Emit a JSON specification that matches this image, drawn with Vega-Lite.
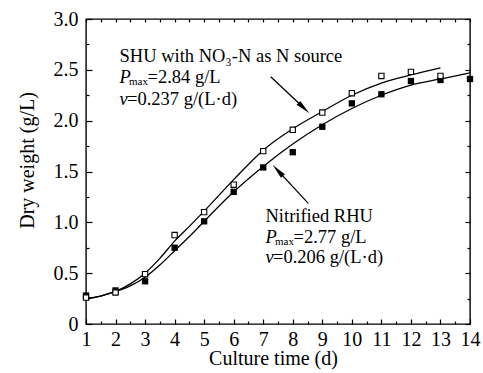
{
  "$schema": "https://vega.github.io/schema/vega-lite/v6.json",
  "width": 384,
  "height": 305,
  "autosize": "none",
  "padding": {"left": 86, "top": 19, "right": 13, "bottom": 49},
  "background": "white",
  "config": {
    "view": {"stroke": "black", "strokeWidth": 1.4},
    "axis": {
      "domain": false,
      "grid": false,
      "labelFont": "Liberation Serif",
      "titleFont": "Liberation Serif",
      "labelFontSize": 20,
      "titleFontSize": 20,
      "titleFontWeight": "normal",
      "labelColor": "black",
      "titleColor": "black",
      "tickColor": "black",
      "tickWidth": 1.2,
      "labelFlush": false,
      "labelOverlap": false
    }
  },
  "datasets": {
    "curves": [
      {"series": "SHU", "t": 1, "dw": 0.25},
      {"series": "SHU", "t": 1.5, "dw": 0.275},
      {"series": "SHU", "t": 2, "dw": 0.32},
      {"series": "SHU", "t": 2.5, "dw": 0.395},
      {"series": "SHU", "t": 3, "dw": 0.5},
      {"series": "SHU", "t": 3.5, "dw": 0.645},
      {"series": "SHU", "t": 4, "dw": 0.815},
      {"series": "SHU", "t": 4.5, "dw": 0.96},
      {"series": "SHU", "t": 5, "dw": 1.11},
      {"series": "SHU", "t": 6, "dw": 1.42},
      {"series": "SHU", "t": 7, "dw": 1.71},
      {"series": "SHU", "t": 8, "dw": 1.92},
      {"series": "SHU", "t": 9, "dw": 2.09},
      {"series": "SHU", "t": 10, "dw": 2.25},
      {"series": "SHU", "t": 11, "dw": 2.37},
      {"series": "SHU", "t": 12, "dw": 2.45},
      {"series": "SHU", "t": 13, "dw": 2.52},
      {"series": "RHU", "t": 1, "dw": 0.25},
      {"series": "RHU", "t": 1.5, "dw": 0.275},
      {"series": "RHU", "t": 2, "dw": 0.32},
      {"series": "RHU", "t": 2.5, "dw": 0.375},
      {"series": "RHU", "t": 3, "dw": 0.46},
      {"series": "RHU", "t": 3.5, "dw": 0.58},
      {"series": "RHU", "t": 4, "dw": 0.72},
      {"series": "RHU", "t": 4.5, "dw": 0.86},
      {"series": "RHU", "t": 5, "dw": 1.01},
      {"series": "RHU", "t": 6, "dw": 1.3},
      {"series": "RHU", "t": 7, "dw": 1.55},
      {"series": "RHU", "t": 8, "dw": 1.77},
      {"series": "RHU", "t": 9, "dw": 1.96},
      {"series": "RHU", "t": 10, "dw": 2.12},
      {"series": "RHU", "t": 11, "dw": 2.25},
      {"series": "RHU", "t": 12, "dw": 2.35},
      {"series": "RHU", "t": 13, "dw": 2.41},
      {"series": "RHU", "t": 14, "dw": 2.47}
    ],
    "points": [
      {"series": "SHU", "t": 1, "dw": 0.26},
      {"series": "SHU", "t": 2, "dw": 0.31},
      {"series": "SHU", "t": 3, "dw": 0.49},
      {"series": "SHU", "t": 4, "dw": 0.875},
      {"series": "SHU", "t": 5, "dw": 1.1},
      {"series": "SHU", "t": 6, "dw": 1.37},
      {"series": "SHU", "t": 7, "dw": 1.7},
      {"series": "SHU", "t": 8, "dw": 1.91},
      {"series": "SHU", "t": 9, "dw": 2.08},
      {"series": "SHU", "t": 10, "dw": 2.27},
      {"series": "SHU", "t": 11, "dw": 2.44},
      {"series": "SHU", "t": 12, "dw": 2.48},
      {"series": "SHU", "t": 13, "dw": 2.44},
      {"series": "RHU", "t": 1, "dw": 0.28},
      {"series": "RHU", "t": 2, "dw": 0.33},
      {"series": "RHU", "t": 3, "dw": 0.42},
      {"series": "RHU", "t": 4, "dw": 0.75},
      {"series": "RHU", "t": 5, "dw": 1.01},
      {"series": "RHU", "t": 6, "dw": 1.3},
      {"series": "RHU", "t": 7, "dw": 1.54},
      {"series": "RHU", "t": 8, "dw": 1.69},
      {"series": "RHU", "t": 9, "dw": 1.94},
      {"series": "RHU", "t": 10, "dw": 2.17},
      {"series": "RHU", "t": 11, "dw": 2.26},
      {"series": "RHU", "t": 12, "dw": 2.39},
      {"series": "RHU", "t": 13, "dw": 2.4},
      {"series": "RHU", "t": 14, "dw": 2.41}
    ],
    "arrows": [
      {"arrow": "upper", "x": 7.253, "y": 2.432, "x2": 8.377, "y2": 2.124},
      {"arrow": "lower", "x": 8.526, "y": 1.187, "x2": 7.493, "y2": 1.51}
    ],
    "labels": [
      {"x": 2.134, "y": 2.58, "text": "SHU with NO₃-N as N source", "part": "plain"},
      {"x": 2.134, "y": 2.368, "text": "P", "part": "italic"},
      {"x": 2.134, "y": 2.368, "text": "max", "part": "sub"},
      {"x": 2.134, "y": 2.368, "text": "=2.84 g/L", "part": "afterSub"},
      {"x": 2.134, "y": 2.154, "text": "v", "part": "italic"},
      {"x": 2.134, "y": 2.154, "text": "=0.237 g/(L·d)", "part": "afterV"},
      {"x": 7.077, "y": 1.006, "text": "Nitrified RHU", "part": "plain"},
      {"x": 7.077, "y": 0.794, "text": "P", "part": "italic"},
      {"x": 7.077, "y": 0.794, "text": "max", "part": "sub"},
      {"x": 7.077, "y": 0.794, "text": "=2.77 g/L", "part": "afterSub"},
      {"x": 7.077, "y": 0.597, "text": "v", "part": "italic"},
      {"x": 7.077, "y": 0.597, "text": "=0.206 g/(L·d)", "part": "afterV"}
    ]
  },
  "layer": [
    {
      "data": {"name": "curves"},
      "mark": {"type": "line", "color": "black", "strokeWidth": 1.3, "interpolate": "monotone"},
      "encoding": {
        "x": {
          "field": "t", "type": "quantitative",
          "scale": {"domain": [1, 14], "nice": false, "zero": false},
          "axis": {
            "orient": "bottom",
            "values": [1, 1.5, 2, 2.5, 3, 3.5, 4, 4.5, 5, 5.5, 6, 6.5, 7, 7.5, 8, 8.5, 9, 9.5, 10, 10.5, 11, 11.5, 12, 12.5, 13, 13.5, 14],
            "labelExpr": "datum.value % 1 === 0 ? format(datum.value, 'd') : ''",
            "tickSize": {"condition": {"test": "datum.value % 1 === 0", "value": -5}, "value": -3},
            "labelPadding": 10,
            "title": "Culture time (d)",
            "titleX": 187,
            "titleY": 40,
            "titleBaseline": "alphabetic",
            "titleAlign": "center"
          }
        },
        "y": {
          "field": "dw", "type": "quantitative",
          "scale": {"domain": [0, 3], "nice": false},
          "axis": {
            "orient": "left",
            "values": [0, 0.25, 0.5, 0.75, 1, 1.25, 1.5, 1.75, 2, 2.25, 2.5, 2.75, 3],
            "labelExpr": "datum.value === 0 ? '0' : ((datum.value * 2) % 1 === 0 ? format(datum.value, '.1f') : '')",
            "tickSize": {"condition": {"test": "(datum.value * 2) % 1 === 0", "value": -6}, "value": -3},
            "labelPadding": 14,
            "title": "Dry weight (g/L)",
            "titleX": -53,
            "titleY": 141,
            "titleAngle": -90,
            "titleBaseline": "alphabetic",
            "titleAlign": "center"
          }
        },
        "detail": {"field": "series"}
      }
    },
    {
      "data": {"name": "points"},
      "transform": [{"filter": "datum.series === 'RHU'"}],
      "mark": {"type": "square", "color": "black", "filled": true, "size": 40, "opacity": 1},
      "encoding": {
        "x": {
          "field": "t", "type": "quantitative",
          "axis": {
            "orient": "top",
            "values": [1, 1.5, 2, 2.5, 3, 3.5, 4, 4.5, 5, 5.5, 6, 6.5, 7, 7.5, 8, 8.5, 9, 9.5, 10, 10.5, 11, 11.5, 12, 12.5, 13, 13.5, 14],
            "labels": false,
            "title": null,
            "tickSize": -3
          }
        },
        "y": {
          "field": "dw", "type": "quantitative",
          "axis": {
            "orient": "right",
            "values": [0, 0.25, 0.5, 0.75, 1, 1.25, 1.5, 1.75, 2, 2.25, 2.5, 2.75, 3],
            "labels": false,
            "title": null,
            "tickSize": {"condition": {"test": "(datum.value * 2) % 1 === 0", "value": -5}, "value": -3}
          }
        }
      }
    },
    {
      "data": {"name": "points"},
      "transform": [{"filter": "datum.series === 'SHU'"}],
      "mark": {"type": "square", "fill": "white", "stroke": "black", "strokeWidth": 1.1, "size": 28, "opacity": 1, "fillOpacity": 1},
      "encoding": {
        "x": {"field": "t", "type": "quantitative", "axis": null},
        "y": {"field": "dw", "type": "quantitative", "axis": null}
      }
    },
    {
      "data": {"name": "arrows"},
      "mark": {"type": "rule", "color": "black", "strokeWidth": 1.2},
      "encoding": {
        "x": {"field": "x", "type": "quantitative", "axis": null},
        "y": {"field": "y", "type": "quantitative", "axis": null},
        "x2": {"field": "x2"},
        "y2": {"field": "y2"}
      }
    },
    {
      "data": {"name": "arrows"},
      "transform": [{"filter": "datum.arrow === 'upper'"}],
      "mark": {"type": "point", "shape": "M0,-1L0.36,1L-0.36,1Z", "filled": true, "color": "black", "opacity": 1, "size": 225, "angle": 133.5},
      "encoding": {
        "x": {"field": "x2", "type": "quantitative", "axis": null},
        "y": {"field": "y2", "type": "quantitative", "axis": null}
      }
    },
    {
      "data": {"name": "arrows"},
      "transform": [{"filter": "datum.arrow === 'lower'"}],
      "mark": {"type": "point", "shape": "M0,-1L0.36,1L-0.36,1Z", "filled": true, "color": "black", "opacity": 1, "size": 225, "angle": 317},
      "encoding": {
        "x": {"field": "x2", "type": "quantitative", "axis": null},
        "y": {"field": "y2", "type": "quantitative", "axis": null}
      }
    },
    {
      "data": {"name": "labels"},
      "transform": [{"filter": "datum.part === 'plain'"}],
      "mark": {"type": "text", "font": "Liberation Serif", "fontSize": 18.5, "align": "left", "baseline": "alphabetic", "color": "black"},
      "encoding": {
        "x": {"field": "x", "type": "quantitative", "axis": null},
        "y": {"field": "y", "type": "quantitative", "axis": null},
        "text": {"field": "text"}
      }
    },
    {
      "data": {"name": "labels"},
      "transform": [{"filter": "datum.part === 'italic'"}],
      "mark": {"type": "text", "font": "Liberation Serif", "fontSize": 18.5, "fontStyle": "italic", "align": "left", "baseline": "alphabetic", "color": "black"},
      "encoding": {
        "x": {"field": "x", "type": "quantitative", "axis": null},
        "y": {"field": "y", "type": "quantitative", "axis": null},
        "text": {"field": "text"}
      }
    },
    {
      "data": {"name": "labels"},
      "transform": [{"filter": "datum.part === 'sub'"}],
      "mark": {"type": "text", "font": "Liberation Serif", "fontSize": 11, "align": "left", "baseline": "alphabetic", "color": "black", "dx": 9.5, "dy": 2},
      "encoding": {
        "x": {"field": "x", "type": "quantitative", "axis": null},
        "y": {"field": "y", "type": "quantitative", "axis": null},
        "text": {"field": "text"}
      }
    },
    {
      "data": {"name": "labels"},
      "transform": [{"filter": "datum.part === 'afterSub'"}],
      "mark": {"type": "text", "font": "Liberation Serif", "fontSize": 18.5, "align": "left", "baseline": "alphabetic", "color": "black", "dx": 28},
      "encoding": {
        "x": {"field": "x", "type": "quantitative", "axis": null},
        "y": {"field": "y", "type": "quantitative", "axis": null},
        "text": {"field": "text"}
      }
    },
    {
      "data": {"name": "labels"},
      "transform": [{"filter": "datum.part === 'afterV'"}],
      "mark": {"type": "text", "font": "Liberation Serif", "fontSize": 18.5, "align": "left", "baseline": "alphabetic", "color": "black", "dx": 7.5},
      "encoding": {
        "x": {"field": "x", "type": "quantitative", "axis": null},
        "y": {"field": "y", "type": "quantitative", "axis": null},
        "text": {"field": "text"}
      }
    }
  ],
  "resolve": {"axis": {"x": "independent", "y": "independent"}}
}
